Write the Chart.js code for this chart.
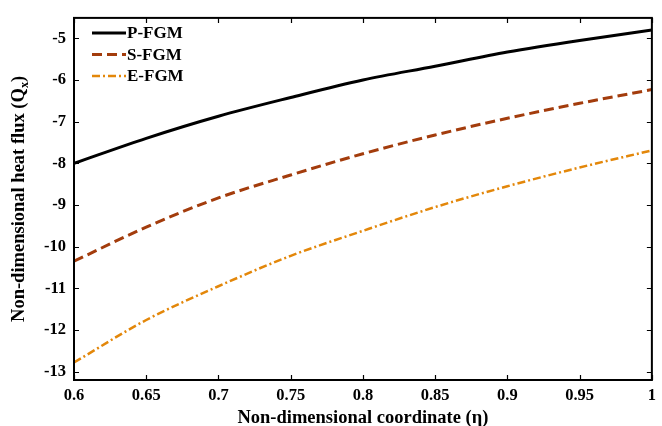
<!DOCTYPE html>
<html>
<head>
<meta charset="utf-8">
<script src="https://cdn.jsdelivr.net/npm/chart.js@4.4.0/dist/chart.umd.min.js"></script>
<style>
  html, body { margin: 0; padding: 0; background: #fff; }
  #wrap { width: 662px; height: 426px; }
</style>
</head>
<body>
<div id="wrap"><canvas id="grafik" width="662" height="426"></canvas></div>
<script>
// eta values (x axis)
var etaDegerleri = [0.6, 0.65, 0.7, 0.75, 0.8, 0.85, 0.9, 0.95, 1.0];
// heat flux per material
var pFgm = [-8.0, -7.40, -6.87, -6.42, -6.00, -5.67, -5.33, -5.05, -4.80];
var sFgm = [-10.35, -9.53, -8.83, -8.28, -7.77, -7.32, -6.92, -6.56, -6.23];
var eFgm = [-12.78, -11.76, -10.95, -10.22, -9.62, -9.05, -8.55, -8.10, -7.69];
var seriAdlari = ["P-FGM", "S-FGM", "E-FGM"];
var xTikler = [0.6, 0.65, 0.7, 0.75, 0.8, 0.85, 0.9, 0.95, 1];
var yTikler = [-13, -12, -11, -10, -9, -8, -7, -6, -5];

var yaziTipi = "'Liberation Serif', 'Times New Roman', serif";

function noktalar(dizi) {
  var sonuc = [];
  for (var i = 0; i < etaDegerleri.length; i++) {
    sonuc.push({x: etaDegerleri[i], y: dizi[i]});
  }
  return sonuc;
}

/* ic tikler, cerceve, lejant ve y basligi */
var cizimEklentisi = {
  id: "cizimEklentisi",
  afterDraw: function (chart) {
    var ctx = chart.ctx;
    var alan = chart.chartArea;
    var xs = chart.scales.x, ys = chart.scales.y;
    ctx.save();
    ctx.strokeStyle = "#000";
    ctx.lineWidth = 1.2;
    for (var i = 0; i < xTikler.length; i++) {
      var px = Math.round(xs.getPixelForValue(xTikler[i])) + 0.5;
      ctx.beginPath();
      ctx.moveTo(px, alan.bottom); ctx.lineTo(px, alan.bottom - 5);
      ctx.moveTo(px, alan.top); ctx.lineTo(px, alan.top + 5);
      ctx.stroke();
    }
    for (var j = 0; j < yTikler.length; j++) {
      var py = Math.round(ys.getPixelForValue(yTikler[j])) + 0.5;
      ctx.beginPath();
      ctx.moveTo(alan.left, py); ctx.lineTo(alan.left + 5, py);
      ctx.moveTo(alan.right, py); ctx.lineTo(alan.right - 5, py);
      ctx.stroke();
    }
    ctx.lineWidth = 2;
    ctx.strokeRect(alan.left, alan.top, alan.right - alan.left, alan.bottom - alan.top);

    // lejant
    var ds = chart.data.datasets;
    ctx.font = "bold 17px " + yaziTipi;
    ctx.textBaseline = "middle";
    ctx.fillStyle = "#000";
    for (var k = 0; k < ds.length; k++) {
      var ly = alan.top + 15 + k * 21.5;
      ctx.beginPath();
      ctx.strokeStyle = ds[k].borderColor;
      ctx.lineWidth = ds[k].borderWidth;
      ctx.setLineDash(ds[k].borderDash || []);
      ctx.moveTo(alan.left + 18, ly);
      ctx.lineTo(alan.left + 52, ly);
      ctx.stroke();
      ctx.setLineDash([]);
      ctx.fillText(ds[k].label, alan.left + 53, ly + 1);
    }

    // y basligi (alt indisli)
    ctx.translate(19, (alan.top + alan.bottom) / 2);
    ctx.rotate(-Math.PI / 2);
    ctx.font = "bold 18.5px " + yaziTipi;
    var ana = "Non-dimensional heat flux (Q";
    var w1 = ctx.measureText(ana).width;
    ctx.font = "bold 12px " + yaziTipi;
    var w2 = ctx.measureText("x").width;
    ctx.font = "bold 18.5px " + yaziTipi;
    var w3 = ctx.measureText(")").width;
    var bas = -(w1 + w2 + w3) / 2;
    ctx.textAlign = "left";
    ctx.fillText(ana, bas, 0);
    ctx.font = "bold 12px " + yaziTipi;
    ctx.fillText("x", bas + w1, 6);
    ctx.font = "bold 18.5px " + yaziTipi;
    ctx.fillText(")", bas + w1 + w2, 0);
    ctx.restore();
  }
};

var ctx = document.getElementById("grafik");
var grafik = new Chart(ctx, {
  type: "line",
  data: {
    datasets: [{
      label: seriAdlari[0],
      data: noktalar(pFgm),
      borderColor: "#000000",
      borderWidth: 3,
      pointRadius: 0,
      cubicInterpolationMode: "monotone"
    }, {
      label: seriAdlari[1],
      data: noktalar(sFgm),
      borderColor: "#a33c0c",
      borderWidth: 3,
      borderDash: [10, 5],
      pointRadius: 0,
      cubicInterpolationMode: "monotone"
    }, {
      label: seriAdlari[2],
      data: noktalar(eFgm),
      borderColor: "#e3870a",
      borderWidth: 2.5,
      borderDash: [8, 3, 2, 3],
      pointRadius: 0,
      cubicInterpolationMode: "monotone"
    }]
  },
  options: {
    responsive: false,
    animation: false,
    layout: { padding: { top: 13, right: 10, left: 0, bottom: 0 } },
    plugins: { legend: { display: false }, tooltip: { enabled: false } },
    scales: {
      x: {
        type: "linear",
        min: 0.6,
        max: 1,
        afterBuildTicks: function (s) { s.ticks = xTikler.map(function (v) { return {value: v}; }); },
        afterFit: function (s) { s.height = 46; },
        grid: { display: false, drawTicks: false },
        border: { display: false },
        ticks: {
          color: "#000",
          padding: 6,
          maxRotation: 0,
          font: { family: yaziTipi, size: 16.5, weight: "bold" },
          callback: function (v) { return String(parseFloat(v.toFixed(2))); }
        },
        title: {
          display: true,
          text: "Non-dimensional coordinate (η)",
          color: "#000",
          padding: { top: 1, bottom: -3 },
          font: { family: yaziTipi, size: 18.5, weight: "bold" }
        }
      },
      y: {
        type: "linear",
        min: -13.2,
        max: -4.51,
        afterBuildTicks: function (s) { s.ticks = yTikler.map(function (v) { return {value: v}; }); },
        afterFit: function (s) { s.width = 74; },
        grid: { display: false, drawTicks: false },
        border: { display: false },
        ticks: {
          color: "#000",
          padding: 8,
          font: { family: yaziTipi, size: 16.5, weight: "bold" },
          callback: function (v) { return String(v); }
        }
      }
    }
  },
  plugins: [cizimEklentisi]
});
</script>
</body>
</html>
